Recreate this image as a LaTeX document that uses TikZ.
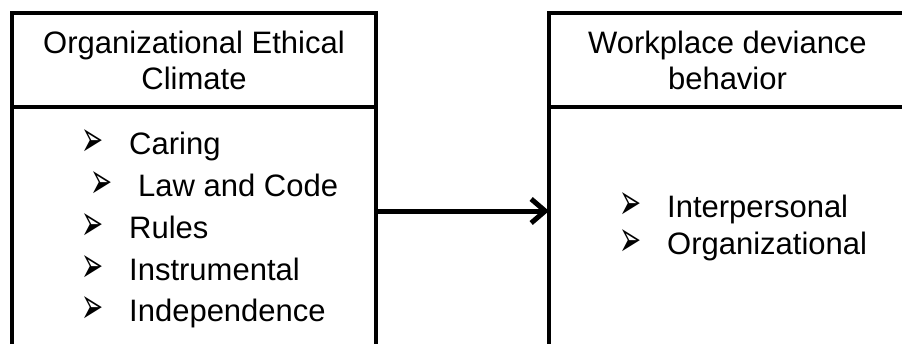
\documentclass[tikz,border=0pt]{standalone}
\usepackage{fontspec}
\usepackage{graphicx}
\setmainfont{Liberation Sans}
\newfontfamily\dingfont{DejaVu Sans}
\usetikzlibrary{positioning,arrows.meta}
\newcommand{\bul}{\makebox[46pt][l]{\hspace*{-2pt}\raisebox{-2pt}{\scalebox{0.6}[1.15]{\dingfont\fontsize{44}{44}\selectfont ➢}}}}

\begin{document}
\begin{tikzpicture}
  [x=1pt,y=-1pt,
   box/.style={draw, line width=4pt, rectangle, outer sep=0pt, inner sep=0pt, align=center},
   item/.style={anchor=base west, inner sep=0pt},
   flow/.style={line width=5pt, -{Straight Barb[length=14pt,width=24pt]}},
   every node/.style={font=\fontsize{31}{36}\selectfont}]

 \useasboundingbox (0,0) rectangle (902,343);
 \clip (0,0) rectangle (902,343);

 \node[box, minimum width=364pt, minimum height=94pt] (ecHead) at (194,60) {Organizational Ethical\\Climate};
 \node[box, minimum width=364pt, minimum height=263pt, below=0pt of ecHead] (ecBody) {};

 \node[box, minimum width=357pt, minimum height=94pt] (wdHead) at (727.5,60) {Workplace deviance\\behavior};
 \node[box, minimum width=357pt, minimum height=263pt, below=0pt of wdHead] (wdBody) {};

 \foreach \n/\x/\y/\t in {1/83/154/Caring, 2/92/196/Law and Code, 3/83/238/Rules, 4/83/280/Instrumental, 5/83/321/Independence}
   \node[item] (ec\n) at (\x,\y) {\bul\t};

 \foreach \n/\y/\t in {1/217/Interpersonal, 2/254/Organizational}
   \node[item] (wd\n) at (621,\y) {\bul\t};

 \draw[flow] ([yshift=27.5pt]ecBody.east) -- ([yshift=27.5pt]wdBody.west);
\end{tikzpicture}
\end{document}
